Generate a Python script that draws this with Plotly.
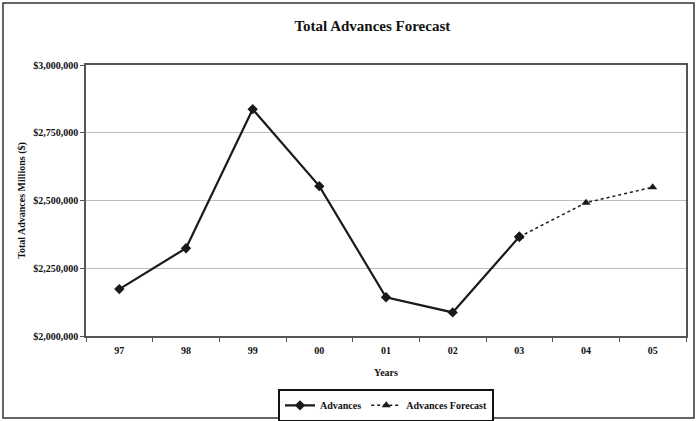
import plotly.graph_objects as go

years = ["97", "98", "99", "00", "01", "02", "03", "04", "05"]
advances = [2173000, 2324000, 2837000, 2553000, 2143000, 2087000, 2366000]
forecast_years = ["03", "04", "05"]
forecast = [2366000, 2492000, 2549000]

font_family = "Liberation Serif, Times New Roman, serif"

fig = go.Figure()
fig.add_trace(go.Scatter(
    x=years[:len(advances)], y=advances, name="<b>Advances</b>",
    mode="lines+markers",
    line=dict(color="#1a1a1a", width=2.2),
    marker=dict(symbol="diamond", size=8, color="#1a1a1a"),
))
fig.add_trace(go.Scatter(
    x=forecast_years, y=forecast, name="<b>Advances Forecast</b>",
    mode="lines+markers",
    line=dict(color="#1a1a1a", width=1.5, dash="dot"),
    marker=dict(symbol="triangle-up", size=8, color="#1a1a1a"),
))
fig.add_trace(go.Scatter(
    x=[years[len(advances) - 1]], y=[advances[-1]], mode="markers",
    marker=dict(symbol="diamond", size=8, color="#1a1a1a"),
    showlegend=False, hoverinfo="skip",
))

fig.update_layout(
    width=696, height=421,
    margin=dict(l=86, r=10, t=65, b=85, autoexpand=False),
    paper_bgcolor="white", plot_bgcolor="white",
    font=dict(family=font_family, color="#111111"),
    title=dict(text="<b>Total Advances Forecast</b>", x=0.535, xanchor="center",
               y=0.94, yanchor="middle", font=dict(size=15, family=font_family)),
    xaxis=dict(
        type="category", categoryorder="array", categoryarray=years,
        range=[-0.5, 8.5], tickson="boundaries",
        ticks="outside", ticklen=4, tickcolor="#555",
        showline=True, linecolor="#555", linewidth=1.5, mirror=True,
        showgrid=False, ticklabelstandoff=4,
        tickprefix="<b>", ticksuffix="</b>",
        tickfont=dict(size=10, family=font_family),
        title=dict(text="<b>Years</b>", font=dict(size=10, family=font_family), standoff=14),
    ),
    yaxis=dict(
        range=[2000000, 3000000], dtick=250000,
        tickprefix="<b>$", ticksuffix="</b>", tickformat=",.0f",
        ticks="outside", ticklen=4, tickcolor="#555",
        showline=True, linecolor="#555", linewidth=1.5, mirror=True,
        showgrid=True, gridcolor="#bdbdbd", gridwidth=1,
        tickfont=dict(size=10, family=font_family),
        title=dict(text="<b>Total Advances Millions ($)</b>", font=dict(size=10, family=font_family), standoff=6),
    ),
    legend=dict(
        orientation="h", x=0.5, xanchor="center", y=-0.195, yanchor="top",
        bordercolor="#111", borderwidth=2, bgcolor="white",
        font=dict(size=10, family=font_family),
    ),
    showlegend=True,
)

fig.add_shape(type="rect", xref="paper", yref="paper",
              x0=-83/600, x1=1 + 8/600, y0=-82/271, y1=1 + 62/271,
              line=dict(color="#333", width=1.5))

fig.write_html("out.html", config={"displayModeBar": False},
               post_script="document.body.style.margin='0';document.body.style.overflow='hidden';")
